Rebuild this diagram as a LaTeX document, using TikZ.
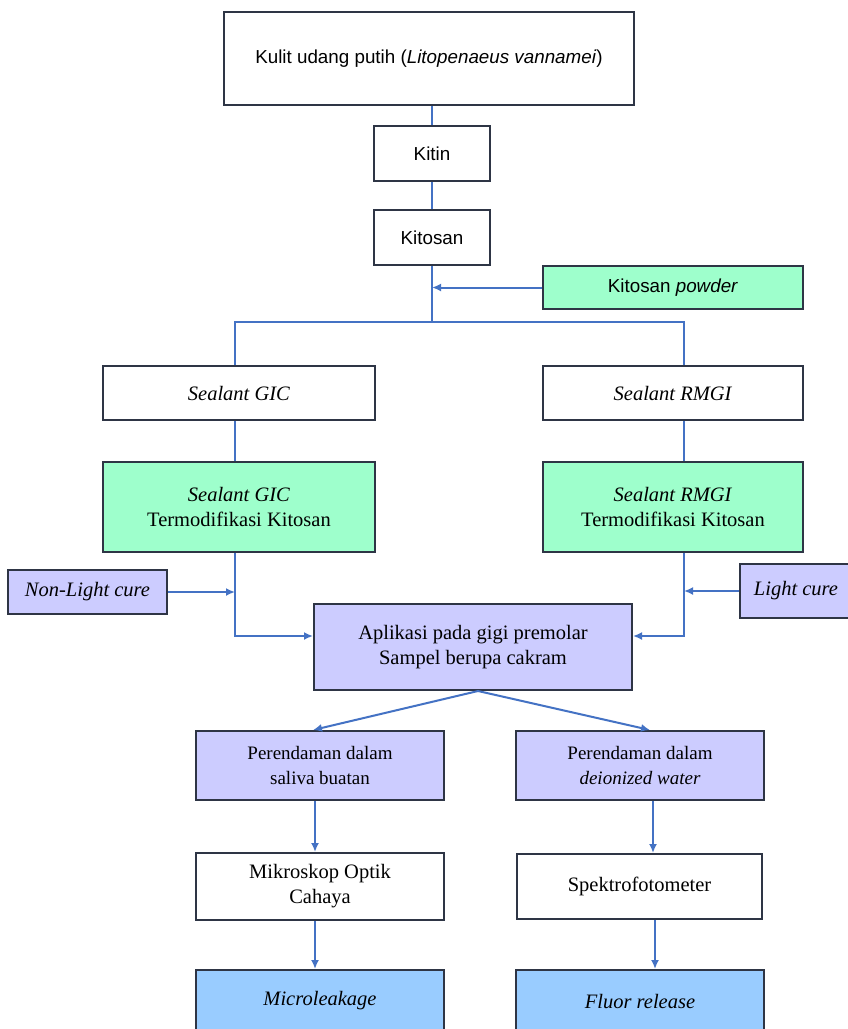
\documentclass[tikz,border=0pt]{standalone}
\usepackage{fontspec}
\setmainfont{Liberation Serif}
\newfontfamily\arialf{Liberation Sans}
\usetikzlibrary{arrows.meta}
\definecolor{bord}{HTML}{2E3545}
\definecolor{conn}{HTML}{4472C4}
\definecolor{greenf}{HTML}{9EFFCC}
\definecolor{lavf}{HTML}{CCCCFF}
\definecolor{bluef}{HTML}{99CCFF}
\tikzset{
  box/.style={draw=bord, line width=2pt, fill=white, inner sep=0pt, align=center, anchor=center},
  sansbox/.style={box, font=\arialf\fontsize{18.8}{22}\selectfont},
  serifbox/.style={box, font=\fontsize{20.5}{25}\selectfont},
  smallserif/.style={box, font=\fontsize{19}{25}\selectfont},
  ln/.style={draw=conn, line width=2pt},
  arr/.style={ln, -{Latex[length=9pt,width=8pt]}},
}
\begin{document}
\begin{tikzpicture}[x=1pt,y=-1pt]
\useasboundingbox (0,0) rectangle (848,1029);
\clip (0,0) rectangle (848,1029);
\fill[white] (0,0) rectangle (848,1029);
% nodes
\node[sansbox, minimum width=410pt, minimum height=93pt] (top) at (429,58.5) {Kulit udang putih (\textit{Litopenaeus vannamei})};
\node[sansbox, minimum width=116pt, minimum height=55pt] (kitin) at (432,153.5) {Kitin};
\node[sansbox, minimum width=116pt, minimum height=55pt] (kitosan) at (432,237.5) {Kitosan};
\node[sansbox, fill=greenf, minimum width=260pt, minimum height=43pt] (powder) at (673,287.5) {Kitosan \textit{powder}};
\node[serifbox, minimum width=272pt, minimum height=54pt] (gic) at (239,393) {\textit{Sealant GIC}};
\node[serifbox, minimum width=260pt, minimum height=54pt] (rmgi) at (673,393) {\textit{Sealant RMGI}};
\node[serifbox, fill=greenf, minimum width=272pt, minimum height=90pt] (gicm) at (239,507) {\textit{Sealant GIC}\\Termodifikasi Kitosan};
\node[serifbox, fill=greenf, minimum width=260pt, minimum height=90pt] (rmgim) at (673,507) {\textit{Sealant RMGI}\\Termodifikasi Kitosan};
\node[serifbox, fill=lavf, minimum width=159pt, minimum height=44pt] (nlc) at (87.5,592) {\textit{Non-Light cure}};
\node[serifbox, fill=lavf, minimum width=112pt, minimum height=54pt] (lc) at (796,591) {\textit{Light cure}};
\node[serifbox, fill=lavf, minimum width=318pt, minimum height=86pt] (apl) at (473,647) {Aplikasi pada gigi premolar\\Sampel berupa cakram};
\node[smallserif, fill=lavf, minimum width=248pt, minimum height=69pt] (per1) at (320,765.5) {Perendaman dalam\\saliva buatan};
\node[smallserif, fill=lavf, minimum width=248pt, minimum height=69pt] (per2) at (640,765.5) {Perendaman dalam\\\textit{deionized water}};
\node[serifbox, minimum width=248pt, minimum height=67pt] (mik) at (320,886.5) {Mikroskop Optik\\Cahaya};
\node[serifbox, minimum width=245pt, minimum height=65pt] (spek) at (639.5,886.5) {Spektrofotometer};
\node[serifbox, fill=bluef, minimum width=248pt, minimum height=62pt] (micro) at (320,1001) {\textit{Microleakage}};
\node[serifbox, fill=bluef, minimum width=248pt, minimum height=62pt] (fluor) at (640,1001) {\textit{Fluor release}};
% coordinates
\coordinate (split) at (432,322);
\coordinate (sl) at (235,322);
\coordinate (sr) at (684,322);
\coordinate (jl) at (235,636);
\coordinate (jr) at (684,636);
% connectors
\draw[ln] (kitin.north) -- (kitin.north |- top.south);
\draw[ln] (kitosan.north) -- (kitin.south);
\draw[ln] (kitosan.south) -- (split);
\draw[arr] (powder.west) -- (powder.west -| split);
\draw[ln] (gic.north -| sl) -- (sl) -- (sr) -- (rmgi.north -| sr);
\draw[ln] (gic.south -| sl) -- (gicm.north -| sl);
\draw[ln] (rmgi.south -| sr) -- (rmgim.north -| sr);
\draw[arr] (gicm.south -| jl) -- (jl) -- (apl.west |- jl);
\draw[arr] (rmgim.south -| jr) -- (jr) -- (apl.east |- jr);
\draw[arr] (nlc.east) -- (nlc.east -| jl);
\draw[arr] (lc.west) -- (lc.west -| jr);
\draw[arr] ([xshift=5pt]apl.south) -- ([xshift=-7pt]per1.north);
\draw[arr] ([xshift=5pt]apl.south) -- ([xshift=10pt]per2.north);
\draw[arr] ([xshift=-5pt]per1.south) -- ([xshift=-5pt]mik.north);
\draw[arr] ([xshift=13pt]per2.south) -- ([xshift=13pt]per2.south |- spek.north);
\draw[arr] ([xshift=-5pt]mik.south) -- ([xshift=-5pt]micro.north);
\draw[arr] ([xshift=15.5pt]spek.south) -- ([xshift=15.5pt]spek.south |- fluor.north);
\end{tikzpicture}
\end{document}
